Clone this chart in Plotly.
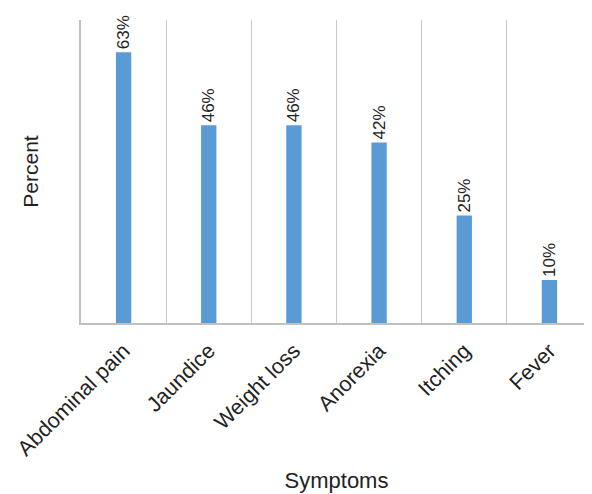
import plotly.graph_objects as go

categories = ["Abdominal pain", "Jaundice", "Weight loss", "Anorexia", "Itching", "Fever"]
percent = [63, 46, 46, 42, 25, 10]
labels = [f"{v}%" for v in percent]

x_idx = list(range(len(categories)))

fig = go.Figure(go.Bar(
    x=x_idx, y=percent, text=labels, textposition="outside", textangle=-90,
    constraintext="none",
    textfont=dict(size=17, color="#222222", family="Liberation Sans"),
    marker=dict(color="#5B9BD5", line=dict(width=0)), width=0.18, cliponaxis=False,
))

fig.update_layout(
    width=592, height=494, margin=dict(l=73, r=8, t=12, b=179, autoexpand=False),
    paper_bgcolor="white", plot_bgcolor="white", showlegend=False,
    font=dict(family="Liberation Sans", color="#222222"),
    xaxis=dict(
        range=[-0.5, len(categories) - 0.5], tickvals=x_idx, ticktext=categories,
        tickangle=-45, tickfont=dict(size=21.5), showgrid=False, zeroline=False,
        showline=True, linecolor="#c0c0c0", linewidth=1.5, ticks="",
        ticklabelstandoff=5,
        minor=dict(tick0=0.5, dtick=1, showgrid=True, gridcolor="#c8c8c8", gridwidth=1),
        title=dict(text="Symptoms", font=dict(size=22), standoff=13),
        automargin=False,
    ),
    yaxis=dict(
        range=[0, 70.5], showticklabels=False, showgrid=False, zeroline=False,
        showline=True, linecolor="#c0c0c0", linewidth=1.5, ticks="",
        title=dict(text="Percent", font=dict(size=21), standoff=35),
        automargin=False,
    ),
)

fig.write_html("out.html")
